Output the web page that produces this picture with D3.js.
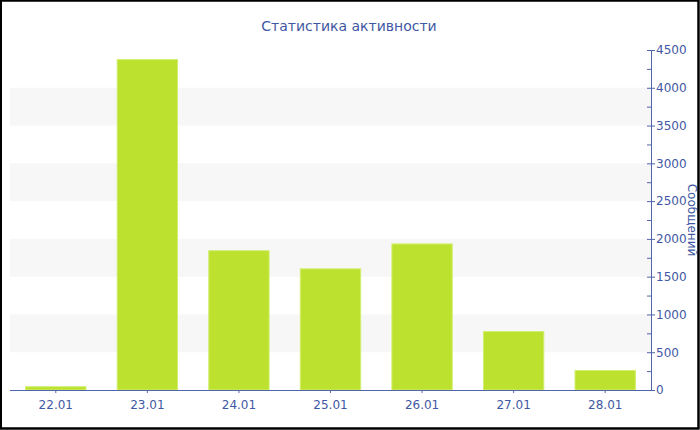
<!DOCTYPE html>
<html><head><meta charset="utf-8">
<script src="https://cdn.jsdelivr.net/npm/d3@7"></script>
<style>body{margin:0;background:#fff}svg{display:block}</style>
</head><body>
<script>
const categories = ["22.01","23.01","24.01","25.01","26.01","27.01","28.01"];
const values = [50, 4380, 1850, 1610, 1940, 780, 265];
const yTicks = [0,500,1000,1500,2000,2500,3000,3500,4000,4500];
const title = "Статистика активности";
const yLabel = "Сообщений";

const W = 700, H = 430;
const m = {left: 10, right: 49, top: 50, bottom: 40};
const textColor = "#3f58a3", axisColor = "#5066aa";
const font = "DejaVu Sans, Verdana, sans-serif";

const svg = d3.select("body").append("svg").attr("width", W).attr("height", H);
svg.append("rect").attr("x",1).attr("y",0.5).attr("width",W-2.5).attr("height",H-2)
  .attr("fill","#fff").attr("stroke","#000").attr("stroke-width",2);

const x = d3.scaleBand().domain(categories).range([m.left, W - m.right]).paddingInner(0.33).paddingOuter(0.165);
const y = d3.scaleLinear().domain([0, 4500]).range([H - m.bottom, m.top]);

// alternating bands
const bands = d3.range(0, yTicks.length - 1).filter(i => i % 2 === 1);
svg.append("g").selectAll("rect").data(bands).join("rect")
  .attr("x", m.left).attr("width", W - m.right - m.left)
  .attr("y", i => y(yTicks[i+1])).attr("height", i => y(yTicks[i]) - y(yTicks[i+1]))
  .attr("fill", "#f7f7f7");

// bars
svg.append("g").selectAll("rect").data(values).join("rect")
  .attr("x", (d,i) => x(categories[i]) + 0.5).attr("width", x.bandwidth() - 1)
  .attr("y", d => y(d) + 0.5).attr("height", d => y(0) - y(d) - 0.5)
  .attr("fill", "#bce12f").attr("stroke", "#d2ee6e").attr("stroke-width", 1);

// x axis
const xAxis = svg.append("g").attr("transform", `translate(0,${y(0)})`)
  .call(d3.axisBottom(x).tickSize(3).tickSizeOuter(0));
xAxis.select(".domain").attr("stroke", axisColor).attr("d", `M${m.left},0.5H${W - m.right}`);
xAxis.selectAll(".tick line").attr("stroke", axisColor);
xAxis.selectAll("text").attr("fill", textColor).attr("font-family", font).attr("font-size", 12).attr("dy", "1.05em");

// y axis right
const minor = d3.range(250, 4500, 500);
const gy = svg.append("g").attr("transform", `translate(${W - m.right},0)`);
gy.append("g").call(d3.axisLeft(y).tickValues(minor).tickSize(4).tickFormat(""))
  .call(g => g.select(".domain").remove())
  .selectAll("line").attr("stroke", axisColor);
const yAxis = gy.append("g").call(d3.axisRight(y).tickValues(yTicks).tickSize(4).tickSizeOuter(0).tickFormat(d3.format("d")));
yAxis.select(".domain").attr("stroke", axisColor);
yAxis.selectAll(".tick line").attr("stroke", axisColor).attr("x1", -4);
yAxis.selectAll("text").attr("fill", textColor).attr("font-family", font).attr("font-size", 12).attr("x", 5);

// y label
svg.append("text").attr("transform", `translate(${W - 12},${(y(0)+y(4500))/2}) rotate(90)`)
  .attr("text-anchor", "middle").attr("fill", textColor).attr("font-family", font).attr("font-size", 12)
  .text(yLabel);

// title
svg.append("text").attr("x", 349).attr("y", 31).attr("text-anchor", "middle")
  .attr("fill", textColor).attr("font-family", font).attr("font-size", 14).text(title);

// redraw border on top
svg.append("rect").attr("x",1).attr("y",0.5).attr("width",W-2.5).attr("height",H-2)
  .attr("fill","none").attr("stroke","#000").attr("stroke-width",2);
</script>
</body></html>
